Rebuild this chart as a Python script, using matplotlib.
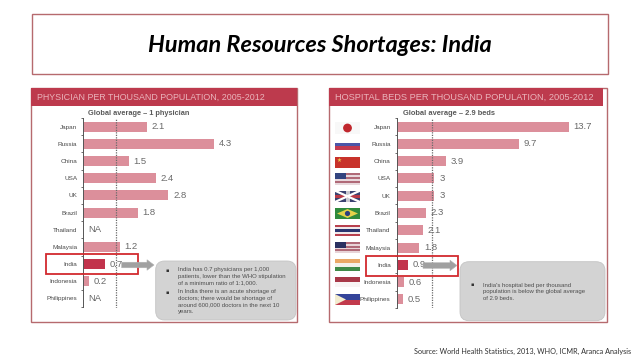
import numpy as np
import matplotlib
matplotlib.use("Agg")
import matplotlib.pyplot as plt
from matplotlib.patches import Rectangle, FancyBboxPatch, FancyArrow, Circle, Polygon

W, H = 638, 359

countries = ["Japan", "Russia", "China", "USA", "UK", "Brazil", "Thailand",
             "Malaysia", "India", "Indonesia", "Philippines"]
physicians = [2.1, 4.3, 1.5, 2.4, 2.8, 1.8, None, 1.2, 0.7, 0.2, None]
physician_labels = ["2.1", "4.3", "1.5", "2.4", "2.8", "1.8", "NA", "1.2", "0.7", "0.2", "NA"]
beds = [13.7, 9.7, 3.9, 3, 3, 2.3, 2.1, 1.8, 0.9, 0.6, 0.5]
bed_labels = ["13.7", "9.7", "3.9", "3", "3", "2.3", "2.1", "1.8", "0.9", "0.6", "0.5"]
physician_avg_line = 1.09
bed_avg_line = 2.8

title = "Human Resources Shortages: India"
source = "Source: World Health Statistics, 2013, WHO, ICMR, Aranca Analysis"
left_header = "PHYSICIAN PER THOUSAND POPULATION, 2005-2012"
right_header = "HOSPITAL BEDS PER THOUSAND POPULATION, 2005-2012"
left_avg = "Global average – 1 physician"
right_avg = "Global average – 2.9 beds"
left_notes = [["India has 0.7 physicians per 1,000",
               "patients, lower than the WHO stipulation",
               "of a minimum ratio of 1:1,000."],
              ["In India there is an acute shortage of",
               "doctors; there would be shortage of",
               "around 600,000 doctors in the next 10",
               "years."]]
right_notes = [["India's hospital bed per thousand",
                "population is below the global average",
                "of 2.9 beds."]]

BAR = "#dc8f9b"
HILITE = "#c2334c"
HEAD = "#bd3a4d"
FRAME = "#b66a6e"
RED = "#d22a2e"
TXT = "#4a4a4a"
VAL = "#6a6a6a"
SANS = "Liberation Sans"

fig = plt.figure(figsize=(W / 100, H / 100), dpi=100, facecolor="white")


def overlay(z):
    a = fig.add_axes([0, 0, 1, 1], zorder=z)
    a.set_xlim(0, W)
    a.set_ylim(H, 0)
    a.axis("off")
    a.patch.set_alpha(0)
    return a


bg = overlay(0)
fg = overlay(2)


def rect(a, x0, y0, x1, y1, **kw):
    a.add_patch(Rectangle((x0, y0), x1 - x0, y1 - y0, **kw))


# title box
rect(bg, 32, 14, 608, 74, fc="white", ec=FRAME, lw=1.0)
bg.text(320, 45, title, family="Lato", weight="bold", style="italic",
        fontsize=16.9, color="black", ha="center", va="center")
bg.text(631, 351.5, source, family="Lato", fontsize=5.25, color="#303030",
        ha="right", va="center")


def panel(frame, head_x1, header, head_tx, head_fs):
    x0, y0, x1, y1 = frame
    rect(bg, x0, y0, x1, y1, fc="white", ec=FRAME, lw=1.0)
    rect(bg, x0, y0, head_x1, y0 + 18, fc=HEAD, ec="none")
    bg.text(head_tx, y0 + 9.5, header, family=SANS, fontsize=head_fs,
            color="#eab4bb", ha="left", va="center")


panel((31, 88, 297, 322), 297, left_header, 37, 6.4)
panel((329, 88, 607, 322), 603, right_header, 335, 6.7)


def chart(x_axis, x_end, y_first, y_last, per_unit, values, labels, avg,
          avg_text, avg_x, avg_fs, label_gap):
    step = (y_last - y_first) / 10
    top, bot = y_first - 9, y_last + 9
    ax = fig.add_axes([x_axis / W, 1 - bot / H, (x_end - x_axis) / W, (bot - top) / H], zorder=1)
    ax.patch.set_alpha(0)
    ax.set_xlim(0, (x_end - x_axis) / per_unit)
    ax.set_ylim((bot - y_first) / step, (top - y_first) / step)
    ypos = np.arange(len(countries))
    vals = [np.nan if v is None else v for v in values]
    colors = [HILITE if c == "India" else BAR for c in countries]
    ax.barh(ypos, vals, height=0.58, color=colors, edgecolor="none")
    ax.axvline(avg, color="#6a6a6a", lw=0.9, ls=(0, (1, 1)), zorder=3)
    for s in ("top", "right", "bottom"):
        ax.spines[s].set_visible(False)
    ax.spines["left"].set_color("#555555")
    ax.spines["left"].set_linewidth(0.7)
    ax.set_xticks([])
    ax.set_yticks(ypos)
    ax.set_yticklabels(countries, family=SANS, fontsize=4.6, color=TXT)
    ax.tick_params(axis="y", which="major", length=0, pad=4.3)
    ax.set_yticks(np.arange(-0.5, len(countries)), minor=True)
    ax.tick_params(axis="y", which="minor", length=1.5, width=0.6, color="#555555")
    for y, v, t in zip(ypos, values, labels):
        ax.annotate(t, (0 if v is None else v, y), xytext=(label_gap, 0),
                    textcoords="offset points", family=SANS, fontsize=6.8,
                    color=VAL, va="center", ha="left", annotation_clip=False)
    bg.text(avg_x, 113.7, avg_text, family=SANS, fontsize=avg_fs, weight="bold",
            color="#5a5a5a", ha="left", va="center")


chart(83.3, 296, 126.7, 298.5, 30.4, physicians, physician_labels,
      physician_avg_line, left_avg, 88, 5.35, 3.4)
chart(396.7, 600, 126.7, 299.3, 12.58, beds, bed_labels,
      bed_avg_line, right_avg, 403, 5.45, 3.4)


def callout(x0, y0, x1, y1, box, ax0, ax1, ay, notes, bx, tx, ys):
    fg.add_patch(FancyBboxPatch((x0 + 9, y0 + 9), x1 - x0 - 18, y1 - y0 - 18,
                                boxstyle="round,pad=9,rounding_size=9",
                                fc="#d3d3d3", ec="#c4c4c4", lw=0.6))
    rect(fg, box[0], box[1], box[2], box[3], fc="none", ec=RED, lw=1.3)
    fg.add_patch(FancyArrow(ax0, ay, ax1 - ax0, 0, width=5.5, head_width=10.5,
                            head_length=7, length_includes_head=True,
                            fc="#a0a0a0", ec="#b0b0b0", lw=0.4))
    i = 0
    for para in notes:
        fg.text(bx, ys[i], "▪", family="DejaVu Sans", fontsize=3.6, color="#333333",
                ha="center", va="center")
        for line in para:
            fg.text(tx, ys[i], line, family=SANS, fontsize=4.3, color="#4d4d4d",
                    ha="left", va="center")
            i += 1


callout(155.7, 261, 296, 320, (45.7, 254, 138, 273.7), 121.7, 154, 265, left_notes,
        166.7, 178, [270, 276.5, 282.5, 292, 298.5, 305, 312])
callout(460, 261.7, 605, 320.7, (365.7, 255.7, 458, 275.7), 423, 457, 265.5, right_notes,
        472, 483, [285, 292, 298.5])

# flags, drawn as plain colour blocks
FX0, FX1 = 335, 360


def stripes(y0, y1, cols):
    h = (y1 - y0) / len(cols)
    for i, c in enumerate(cols):
        rect(bg, FX0, y0 + i * h, FX1, y0 + (i + 1) * h, fc=c, ec="none")


# Japan
stripes(122, 134, ["#f8f8f8"])
bg.add_patch(Circle((347.5, 128), 4.4, fc="#c0272d", ec="none"))
# Russia
stripes(142.7, 150, ["#4a55a8", "#c23a50"])
# China
stripes(156.7, 168, ["#c8322a"])
bg.text(339, 160.5, "★", family="DejaVu Sans", fontsize=4, color="#e8c84a", ha="center", va="center")
# USA
stripes(173, 185, ["#b06a78", "#e8d8dc"] * 3)
rect(bg, FX0, 173, 346, 179, fc="#33447f", ec="none")
# UK
stripes(190.7, 202, ["#3a4270"])
bg.plot([FX0, FX1], [190.7, 202], color="white", lw=1.6)
bg.plot([FX0, FX1], [202, 190.7], color="white", lw=1.6)
rect(bg, 345.5, 190.7, 349.5, 202, fc="#c8c8d0", ec="none")
rect(bg, FX0, 194.5, FX1, 198.2, fc="#b83a48", ec="none")
# Brazil
stripes(208, 219, ["#2f8a3c"])
bg.add_patch(Polygon([(337, 213.5), (347.5, 209), (358, 213.5), (347.5, 218)], fc="#e4d24a", ec="none"))
bg.add_patch(Circle((347.5, 213.5), 2.6, fc="#2d3f80", ec="none"))
# Thailand
stripes(225, 236, ["#b8404e", "#f0e8ea", "#2a3570", "#2a3570", "#f0e8ea", "#b8404e"])
# Malaysia
stripes(242, 253, ["#b06a78", "#e8d4d8"] * 3)
rect(bg, FX0, 242, 346, 248, fc="#2a3060", ec="none")
# India
stripes(259, 271, ["#eaa866", "#f4f0ea", "#3f8a48"])
# Indonesia
stripes(277, 287, ["#a83848", "#f8f4f4"])
# Philippines
stripes(294, 305, ["#34449a", "#c23a4c"])
bg.add_patch(Polygon([(FX0, 294), (FX0, 305), (346, 299.5)], fc="#f2ecd0", ec="none"))

fig.savefig("out.png", dpi=100, facecolor="white")
